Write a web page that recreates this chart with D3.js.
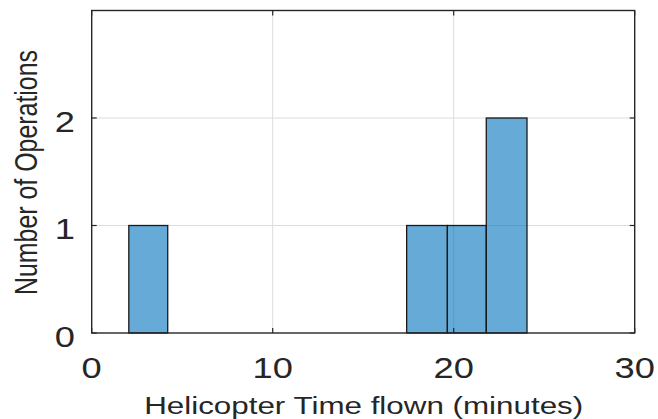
<!DOCTYPE html>
<html><head><meta charset="utf-8">
<script src="https://cdn.jsdelivr.net/npm/d3@7/dist/d3.min.js"></script>
<style>html,body{margin:0;padding:0;background:#fff}svg{display:block}</style>
</head><body>
<script>
// Histogram bins (minutes)
const binStart = [2.05, 17.4, 19.65, 21.8];
const binEnd   = [4.2, 19.65, 21.8, 24.05];
const counts   = [1, 1, 1, 2];
const xTicks = [0, 10, 20, 30];
const yTicks = [0, 1, 2];
const xDomain = [0, 30];
const yDomain = [0, 3];
const xLabel = "Helicopter Time flown (minutes)";
const yLabel = "Number of Operations";

const W = 658, H = 419;
const L = 91.7, R = 634.7, T = 10.5, B = 333;
const SX = 1.25; // horizontal stretch of text in the reference
const font = "'Liberation Sans', Arial, Helvetica, sans-serif";
const ink = "#262626";

const svg = d3.select("body").append("svg").attr("width", W).attr("height", H);
const x = d3.scaleLinear().domain(xDomain).range([L, R]);
const y = d3.scaleLinear().domain(yDomain).range([B, T]);

// grid
const g = svg.append("g");
g.selectAll(".vg").data(xTicks.filter(d => d > xDomain[0] && d < xDomain[1])).enter().append("line")
  .attr("x1", d => x(d)).attr("x2", d => x(d)).attr("y1", T).attr("y2", B)
  .attr("stroke", "#dcdcdc").attr("stroke-width", 1);
g.selectAll(".hg").data(yTicks.filter(d => d > yDomain[0] && d < yDomain[1])).enter().append("line")
  .attr("y1", d => y(d)).attr("y2", d => y(d)).attr("x1", L).attr("x2", R)
  .attr("stroke", "#dcdcdc").attr("stroke-width", 1);

// bars
const bins = counts.map((c, i) => ({x0: binStart[i], x1: binEnd[i], c}));
svg.selectAll(".bar").data(bins).enter().append("rect")
  .attr("x", d => x(d.x0)).attr("width", d => x(d.x1) - x(d.x0))
  .attr("y", d => y(d.c)).attr("height", d => y(0) - y(d.c))
  .attr("fill", "rgba(0,114,189,0.6)").attr("stroke", "#1a1a1a").attr("stroke-width", 1.3);

// ticks inward on all sides
const tk = svg.append("g").attr("stroke", ink).attr("stroke-width", 1.2);
xTicks.forEach(d => {
  tk.append("line").attr("x1", x(d)).attr("x2", x(d)).attr("y1", B).attr("y2", B - 5);
  tk.append("line").attr("x1", x(d)).attr("x2", x(d)).attr("y1", T).attr("y2", T + 5);
});
yTicks.forEach(d => {
  tk.append("line").attr("y1", y(d)).attr("y2", y(d)).attr("x1", L).attr("x2", L + 5);
  tk.append("line").attr("y1", y(d)).attr("y2", y(d)).attr("x1", R).attr("x2", R - 5);
});

// box
svg.append("rect").attr("x", L).attr("y", T).attr("width", R - L).attr("height", B - T)
  .attr("fill", "none").attr("stroke", ink).attr("stroke-width", 1.4);

// tick labels
svg.selectAll(".xt").data(xTicks).enter().append("text")
  .attr("transform", d => `translate(${x(d)},378) scale(${SX},1)`)
  .attr("text-anchor", "middle").attr("font-family", font).attr("font-size", 29)
  .attr("fill", ink).text(d => d);
svg.selectAll(".yt").data(yTicks).enter().append("text")
  .attr("transform", d => `translate(75,${y(d) + 13.5}) scale(${SX},1)`)
  .attr("text-anchor", "end").attr("font-family", font).attr("font-size", 29)
  .attr("fill", ink).text(d => d);

// axis labels
svg.append("text").attr("x", (L + R) / 2 + 0.5).attr("y", 414)
  .attr("text-anchor", "middle").attr("font-family", font).attr("font-size", 23.5)
  .attr("textLength", 439).attr("lengthAdjust", "spacingAndGlyphs")
  .attr("fill", ink).text(xLabel);
svg.append("text").attr("transform", `translate(36.5,172.5) scale(${SX},1) rotate(-90)`)
  .attr("text-anchor", "middle").attr("font-family", font).attr("font-size", 25)
  .attr("textLength", 245).attr("lengthAdjust", "spacingAndGlyphs")
  .attr("fill", ink).text(yLabel);
</script>
</body></html>
